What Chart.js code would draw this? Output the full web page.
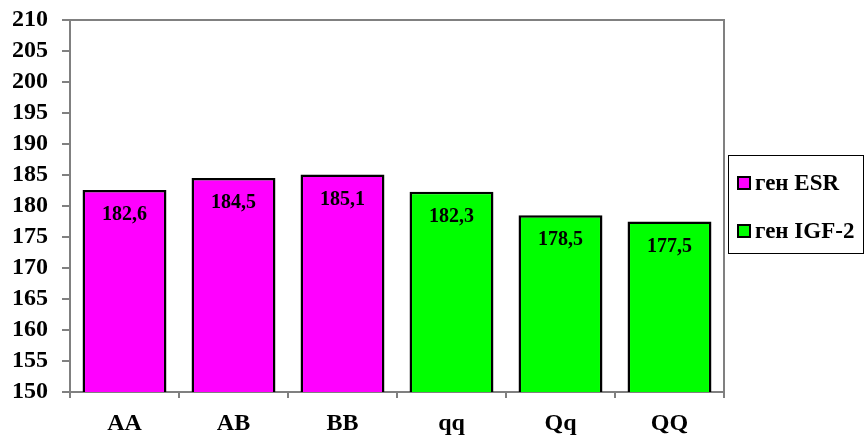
<!DOCTYPE html>
<html>
<head>
<meta charset="utf-8">
<script src="https://cdn.jsdelivr.net/npm/chart.js@4"></script>
<style>
  html, body { margin: 0; padding: 0; background: #fff; }
  #wrap { width: 864px; height: 438px; }
</style>
</head>
<body>
<div id="wrap"><canvas id="c" width="864" height="438"></canvas></div>
<script>
// Genotype groups along the x axis
const categories = ['AA', 'AB', 'BB', 'qq', 'Qq', 'QQ'];
// Series names
const seriesNames = ['ген ESR', 'ген IGF-2'];
// Values per series (null where the gene has no such genotype)
const esrValues = [182.6, 184.5, 185.1, null, null, null];
const igfValues = [null, null, null, 182.3, 178.5, 177.5];
// Y axis range
const yMin = 150, yMax = 210, yStep = 5;

const FONT = '"Liberation Serif", "Times New Roman", serif';

// Grey frame around the plot area
const frame = {
  id: 'frame',
  afterDraw(chart) {
    const { ctx, chartArea: a } = chart;
    ctx.save();
    ctx.strokeStyle = '#808080';
    ctx.lineWidth = 2;
    ctx.beginPath();
    ctx.moveTo(a.left, a.top);
    ctx.lineTo(a.right, a.top);
    ctx.lineTo(a.right, a.bottom);
    ctx.stroke();
    ctx.restore();
  }
};

// Value labels inside each bar, near its top
const valueLabels = {
  id: 'valueLabels',
  afterDatasetsDraw(chart) {
    const ctx = chart.ctx;
    ctx.save();
    ctx.font = 'bold 20px ' + FONT;
    ctx.fillStyle = '#000';
    ctx.textAlign = 'center';
    ctx.textBaseline = 'middle';
    chart.data.datasets.forEach((ds, i) => {
      chart.getDatasetMeta(i).data.forEach((el, j) => {
        const v = ds.data[j];
        if (v == null) return;
        ctx.fillText(v.toFixed(1).replace('.', ','), el.x, el.y + 25);
      });
    });
    ctx.restore();
  }
};

// Boxed legend on the right side
const sideLegend = {
  id: 'sideLegend',
  afterDraw(chart) {
    const ctx = chart.ctx;
    const x = 728, y = 155, w = 135, h = 98;
    ctx.save();
    ctx.strokeStyle = '#000';
    ctx.lineWidth = 1;
    ctx.strokeRect(x + 0.5, y + 0.5, w, h);
    ctx.font = 'bold 23px ' + FONT;
    ctx.textBaseline = 'middle';
    ctx.textAlign = 'left';
    chart.data.datasets.forEach((ds, i) => {
      const cy = 183 + i * 48;
      ctx.fillStyle = ds.backgroundColor;
      ctx.fillRect(738, cy - 6, 12, 12);
      ctx.strokeStyle = '#000';
      ctx.lineWidth = 2;
      ctx.strokeRect(738, cy - 6, 12, 12);
      ctx.fillStyle = '#000';
      ctx.fillText(ds.label, 755, cy + 1);
    });
    ctx.restore();
  }
};

new Chart(document.getElementById('c'), {
  type: 'bar',
  data: {
    labels: categories,
    datasets: [
      { label: seriesNames[0], data: esrValues, backgroundColor: '#FF00FF' },
      { label: seriesNames[1], data: igfValues, backgroundColor: '#00FF00' }
    ]
  },
  options: {
    responsive: false,
    animation: false,
    layout: { padding: { top: 20, right: 140, left: 0, bottom: 0 } },
    datasets: {
      bar: {
        grouped: false,
        barPercentage: 0.77,
        categoryPercentage: 1,
        borderColor: '#000',
        borderWidth: 2.5,
        borderSkipped: false
      }
    },
    plugins: {
      legend: { display: false },
      tooltip: { enabled: false }
    },
    scales: {
      x: {
        offset: true,
        grid: { display: true, drawOnChartArea: false, offset: true, color: '#808080', tickLength: 6, lineWidth: 2 },
        border: { display: true, color: '#808080', width: 2 },
        ticks: { color: '#000', font: { family: FONT, size: 24, weight: 'bold' }, padding: 11, autoSkip: false },
        afterFit(scale) { scale.height = 46; scale.paddingLeft = 0; scale.paddingRight = 0; }
      },
      y: {
        min: yMin,
        max: yMax,
        grid: { display: true, drawOnChartArea: false, color: '#808080', tickLength: 8, lineWidth: 2 },
        border: { display: true, color: '#808080', width: 2 },
        ticks: { stepSize: yStep, autoSkip: false, color: '#000', font: { family: FONT, size: 24, weight: 'bold', lineHeight: 1 }, padding: 14 },
        afterFit(scale) { scale.width = 70; scale.paddingTop = 0; scale.paddingBottom = 0; }
      }
    }
  },
  plugins: [frame, valueLabels, sideLegend]
});
</script>
</body>
</html>
